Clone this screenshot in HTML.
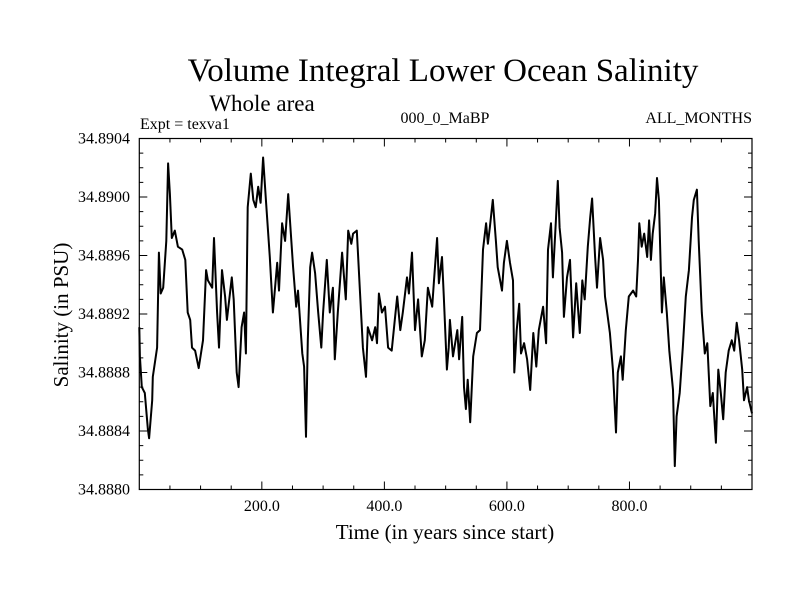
<!DOCTYPE html>
<html><head><meta charset="utf-8"><style>
html,body{margin:0;padding:0;background:#fff;}
svg{display:block;font-family:"Liberation Serif",serif;}
</style></head><body>
<svg id="chart" width="800" height="600" viewBox="0 0 800 600">
<text x="443" y="81" font-size="33" text-anchor="middle">Volume Integral Lower Ocean Salinity</text>
<text x="262" y="111" font-size="23" text-anchor="middle">Whole area</text>
<text x="140" y="129" font-size="16">Expt = texva1</text>
<text x="445" y="123" font-size="16" text-anchor="middle">000_0_MaBP</text>
<text x="752" y="123" font-size="16" text-anchor="end">ALL_MONTHS</text>
<text x="445" y="539" font-size="21" text-anchor="middle">Time (in years since start)</text>
<text transform="translate(68,315) rotate(-90)" font-size="21" text-anchor="middle">Salinity (in PSU)</text>
<g id="axes"></g>
<g id="series"></g>
</svg>
<script>
const years=[0,1,4,9,14,16,21,22,29,32,35,39,44,47,50,53,58,63,70,75,79,83,86,91,97,104,109,112,119,122,127,130,135,140,143,151,154,159,162,167,171,174,177,182,186,190,194,198,202,207,213,218,225,228,233,238,243,251,256,259,266,269,272,275,279,282,287,292,297,300,306,311,316,319,324,331,337,341,346,349,355,360,365,370,373,380,385,388,391,396,401,406,412,417,421,426,430,437,440,445,450,455,461,466,471,478,481,486,489,494,497,502,505,507,512,519,522,527,530,533,536,540,545,551,556,561,566,569,572,577,582,585,592,595,600,605,610,612,616,620,623,628,633,638,643,648,652,659,664,667,672,675,680,683,686,690,693,698,703,708,713,719,723,727,732,736,739,744,747,752,757,760,763,768,773,778,781,786,789,794,799,806,811,814,816,820,824,829,832,835,838,842,845,848,853,856,861,865,871,874,877,882,887,892,897,902,905,910,913,918,923,927,932,936,941,945,949,953,957,962,967,971,975,979,984,987,992,995,1000];
const salinity=[34.88911,34.88891,34.88870,34.88866,34.88841,34.88835,34.88861,34.88877,34.88897,34.88962,34.88934,34.88938,34.88970,34.89023,34.89002,34.88972,34.88977,34.88966,34.88964,34.88957,34.88921,34.88916,34.88897,34.88895,34.88883,34.88902,34.88950,34.88943,34.88938,34.88972,34.88921,34.88897,34.88950,34.88932,34.88916,34.88945,34.88930,34.88880,34.88870,34.88911,34.88921,34.88893,34.88993,34.89016,34.88998,34.88993,34.89007,34.88996,34.89027,34.88996,34.88959,34.88921,34.88955,34.88936,34.88982,34.88970,34.89002,34.88952,34.88925,34.88936,34.88893,34.88884,34.88836,34.88902,34.88952,34.88962,34.88948,34.88921,34.88897,34.88921,34.88957,34.88921,34.88938,34.88889,34.88921,34.88962,34.88930,34.88977,34.88968,34.88975,34.88977,34.88936,34.88897,34.88877,34.88911,34.88902,34.88911,34.88900,34.88934,34.88921,34.88925,34.88897,34.88895,34.88916,34.88932,34.88909,34.88921,34.88945,34.88934,34.88962,34.88909,34.88930,34.88891,34.88902,34.88938,34.88925,34.88943,34.88972,34.88941,34.88959,34.88932,34.88882,34.88897,34.88916,34.88891,34.88909,34.88889,34.88918,34.88870,34.88855,34.88875,34.88846,34.88891,34.88907,34.88909,34.88964,34.88982,34.88968,34.88979,34.88998,34.88970,34.88952,34.88936,34.88955,34.88970,34.88955,34.88943,34.88880,34.88909,34.88927,34.88893,34.88900,34.88889,34.88868,34.88907,34.88884,34.88909,34.88925,34.88900,34.88964,34.88982,34.88945,34.88984,34.89011,34.88979,34.88962,34.88918,34.88945,34.88957,34.88904,34.88941,34.88907,34.88943,34.88930,34.88966,34.88986,34.88999,34.88959,34.88938,34.88972,34.88957,34.88932,34.88923,34.88907,34.88882,34.88839,34.88880,34.88891,34.88875,34.88909,34.88932,34.88936,34.88932,34.88957,34.88982,34.88966,34.88975,34.88959,34.88984,34.88957,34.88975,34.88989,34.89013,34.88998,34.88921,34.88945,34.88921,34.88895,34.88868,34.88816,34.88850,34.88866,34.88897,34.88932,34.88950,34.88986,34.88998,34.89005,34.88970,34.88921,34.88893,34.88900,34.88857,34.88866,34.88832,34.88882,34.88866,34.88848,34.88880,34.88895,34.88902,34.88895,34.88914,34.88902,34.88882,34.88861,34.88870,34.88861,34.88852];
const yTickValues=[34.8880,34.8884,34.8888,34.8892,34.8896,34.8900,34.8904];
const yTickLabels=["34.8880","34.8884","34.8888","34.8892","34.8896","34.8900","34.8904"];
const xTickValues=[200,400,600,800];
const xTickLabels=["200.0","400.0","600.0","800.0"];

const L=139.3,R=752,T=138.5,B=489.5;
const xMin=0,xMax=1000,yMin=34.8880,yMax=34.8904;
function xs(v){return L+(v-xMin)/(xMax-xMin)*(R-L);}
function ys(v){return B-(v-yMin)/(yMax-yMin)*(B-T);}
const NS="http://www.w3.org/2000/svg";
const axes=document.getElementById('axes');
function line(x1,y1,x2,y2,name){
  const l=document.createElementNS(NS,'line');
  l.setAttribute('x1',x1);l.setAttribute('y1',y1);l.setAttribute('x2',x2);l.setAttribute('y2',y2);
  l.setAttribute('stroke','#000');l.setAttribute('stroke-width','1');
  
  
  axes.appendChild(l);
}
const frame=document.createElementNS(NS,'rect');
frame.setAttribute('x',L);frame.setAttribute('y',T);frame.setAttribute('width',R-L);frame.setAttribute('height',B-T);
frame.setAttribute('fill','none');frame.setAttribute('stroke','#000');frame.setAttribute('stroke-width','1.2');


axes.appendChild(frame);
// minor x ticks every 50 years
for(let v=50;v<1000;v+=50){
  const len=(v%200===0)?8:4;
  const x=xs(v);
  line(x,B,x,B-len,'x-tick');
  line(x,T,x,T+len,'x-tick-top');
}
// minor y ticks every 0.0001
for(let i=1;i<24;i++){
  const v=yMin+i*0.0001;
  const len=(i%4===0)?8:4;
  const y=ys(v);
  line(L,y,L+len,y,'y-tick');
  line(R,y,R-len,y,'y-tick-right');
}
yTickValues.forEach((v,i)=>{
  const t=document.createElementNS(NS,'text');
  t.setAttribute('x',130);t.setAttribute('y',ys(v)+5);
  t.setAttribute('font-size','16');t.setAttribute('text-anchor','end');
  t.textContent=yTickLabels[i];
  
  
  axes.appendChild(t);
});
xTickValues.forEach((v,i)=>{
  const t=document.createElementNS(NS,'text');
  t.setAttribute('x',xs(v));t.setAttribute('y',511);
  t.setAttribute('font-size','16');t.setAttribute('text-anchor','middle');
  t.textContent=xTickLabels[i];
  
  
  axes.appendChild(t);
});
const p=document.createElementNS(NS,'path');
p.setAttribute('d',years.map((y,i)=>(i?'L':'M')+xs(y).toFixed(1)+','+ys(salinity[i]).toFixed(1)).join(''));
p.setAttribute('fill','none');p.setAttribute('stroke','#000');p.setAttribute('stroke-width','2');
p.setAttribute('stroke-linejoin','round');


document.getElementById('series').appendChild(p);
</script>
</body></html>
